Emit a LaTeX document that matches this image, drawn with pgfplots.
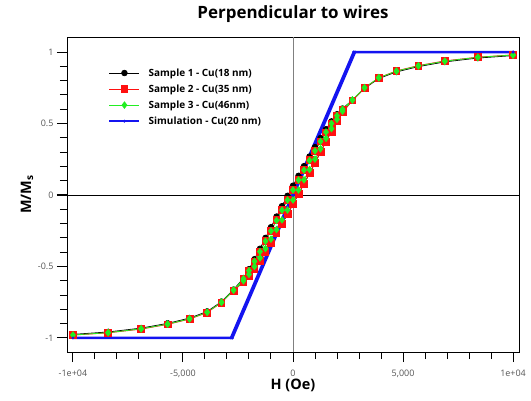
\documentclass[border=0pt]{standalone}
\usepackage{pgfplots}
\pgfplotsset{compat=1.18}
\usepackage{fontspec}
\setmainfont{Open Sans}
\definecolor{tickgray}{HTML}{555555}
\definecolor{sred}{HTML}{FF1010}
\definecolor{sgreen}{HTML}{22EE22}
\definecolor{sblue}{HTML}{1414F0}
\begin{document}
\begin{tikzpicture}
\useasboundingbox (-67bp,-49bp) rectangle (464bp,352bp);
\begin{axis}[
  at={(0,0)}, anchor=south west,
  scale only axis, width=452bp, height=315bp,
  xmin=-10270, xmax=10270, ymin=-1.098, ymax=1.105,
  axis line style={black, line width=0.8bp},
  scaled x ticks=false, scaled y ticks=false,
  xtick={-10000,-5000,0,5000,10000},
  xticklabels={-1e+04,{-5,000},0,{5,000},1e+04},
  ytick={-1,-0.5,0,0.5,1},
  yticklabels={-1,-0.5,0,0.5,1},
  minor x tick num=4, minor y tick num=4,
  tick align=outside, xtick pos=left, ytick pos=left,
  major tick length=10bp, minor tick length=7bp,
  every tick/.append style={black, line width=1bp},
  ticklabel style={font=\fontsize{9}{10}\selectfont, text=tickgray},
  xticklabel style={yshift=-4bp},
  /pgf/number format/assume math mode=true,
  title={Perpendicular to wires},
  title style={at={(0.5,1.0413)}, anchor=base, inner sep=0pt, font=\fontsize{17}{20}\selectfont\bfseries},
  xlabel={H (Oe)},
  xlabel style={at={(0.5,-0.1206)}, anchor=base, inner sep=0pt, font=\fontsize{14.5}{17}\selectfont\bfseries},
  ylabel={M/M\textsubscript{s}},
  ylabel style={at={(-0.0796,0.5)}, anchor=base, inner sep=0pt, font=\fontsize{14.5}{17}\selectfont\bfseries},
  legend style={at={(0.0907,0.907)}, anchor=north west, draw=none, fill=none,
    font=\fontsize{10}{12}\selectfont\bfseries, row sep=3bp, column sep=6bp, inner sep=0pt},
  legend cell align=left,
  legend image code/.code={\draw[mark repeat=2,mark phase=2] plot coordinates {(0bp,0bp) (15bp,0bp) (30bp,0bp)};},
]
\addplot[black, line width=0.8bp, forget plot] coordinates {(-10270,0) (10270,0)};
\addplot[gray, line width=0.8bp, forget plot] coordinates {(0,-1.098) (0,1.105)};

\addplot[black, line width=0.8bp, mark=*, mark size=2.8bp] coordinates {
(10000,0.975) (8400,0.958) (6900,0.931) (5700,0.898) (4700,0.861) (3900,0.815) (3250,0.746) (2700,0.662) (2250,0.605) (2000,0.565) (1750,0.515) (1500,0.460) (1250,0.398) (1000,0.335) (750,0.269) (500,0.202) (250,0.134) (0,0.065) (-250,-0.006) (-500,-0.078) (-750,-0.151) (-1000,-0.225) (-1250,-0.300) (-1500,-0.376) (-1750,-0.449) (-2000,-0.519) (-2250,-0.581) (-2700,-0.662) (-3250,-0.746) (-3900,-0.815) (-4700,-0.861) (-5700,-0.898) (-6900,-0.931) (-8400,-0.958) (-10000,-0.975)
(-8400,-0.958) (-6900,-0.931) (-5700,-0.898) (-4700,-0.861) (-3900,-0.815) (-3250,-0.746) (-2700,-0.662) (-2250,-0.605) (-2000,-0.565) (-1750,-0.515) (-1500,-0.460) (-1250,-0.398) (-1000,-0.335) (-750,-0.269) (-500,-0.202) (-250,-0.134) (0,-0.065) (250,0.006) (500,0.078) (750,0.151) (1000,0.225) (1250,0.300) (1500,0.376) (1750,0.449) (2000,0.519) (2250,0.581) (2700,0.662) (3250,0.746) (3900,0.815) (4700,0.861) (5700,0.898) (6900,0.931) (8400,0.958) (10000,0.975)
};
\addlegendentry{Sample 1 - Cu(18 nm)}

\addplot[sred, line width=0.8bp, mark=square*, mark size=3.4bp] coordinates {
(10000,0.980) (8400,0.964) (6900,0.938) (5700,0.905) (4700,0.868) (3900,0.820) (3250,0.748) (2700,0.661) (2250,0.597) (2000,0.551) (1750,0.496) (1500,0.438) (1250,0.375) (1000,0.310) (750,0.244) (500,0.176) (250,0.108) (0,0.038) (-250,-0.032) (-500,-0.104) (-750,-0.176) (-1000,-0.250) (-1250,-0.323) (-1500,-0.398) (-1750,-0.468) (-2000,-0.533) (-2250,-0.589) (-2700,-0.669) (-3250,-0.752) (-3900,-0.822) (-4700,-0.868) (-5700,-0.905) (-6900,-0.938) (-8400,-0.964) (-10000,-0.980)
(-8400,-0.964) (-6900,-0.938) (-5700,-0.905) (-4700,-0.868) (-3900,-0.822) (-3250,-0.752) (-2700,-0.669) (-2250,-0.609) (-2000,-0.569) (-1750,-0.520) (-1500,-0.462) (-1250,-0.399) (-1000,-0.334) (-750,-0.268) (-500,-0.200) (-250,-0.132) (0,-0.062) (250,0.008) (500,0.080) (750,0.152) (1000,0.226) (1250,0.299) (1500,0.374) (1750,0.444) (2000,0.515) (2250,0.577) (2700,0.661) (3250,0.748) (3900,0.820) (4700,0.868) (5700,0.905) (6900,0.938) (8400,0.964) (10000,0.980)
};
\addlegendentry{Sample 2 - Cu(35 nm)}

\addplot[sgreen, line width=0.8bp, mark=diamond*, mark size=3.2bp] coordinates {
(10000,0.979) (8400,0.963) (6900,0.936) (5700,0.903) (4700,0.866) (3900,0.820) (3250,0.750) (2700,0.665) (2250,0.600) (2000,0.555) (1750,0.500) (1500,0.440) (1250,0.375) (1000,0.309) (750,0.242) (500,0.174) (250,0.105) (0,0.035) (-250,-0.035) (-500,-0.106) (-750,-0.178) (-1000,-0.251) (-1250,-0.323) (-1500,-0.396) (-1750,-0.464) (-2000,-0.529) (-2250,-0.586) (-2700,-0.665) (-3250,-0.750) (-3900,-0.820) (-4700,-0.866) (-5700,-0.903) (-6900,-0.936) (-8400,-0.963) (-10000,-0.979)
(-8400,-0.963) (-6900,-0.936) (-5700,-0.903) (-4700,-0.866) (-3900,-0.820) (-3250,-0.750) (-2700,-0.665) (-2250,-0.600) (-2000,-0.555) (-1750,-0.500) (-1500,-0.440) (-1250,-0.375) (-1000,-0.309) (-750,-0.242) (-500,-0.174) (-250,-0.105) (0,-0.035) (250,0.035) (500,0.106) (750,0.178) (1000,0.251) (1250,0.323) (1500,0.396) (1750,0.464) (2000,0.529) (2250,0.586) (2700,0.665) (3250,0.750) (3900,0.820) (4700,0.866) (5700,0.903) (6900,0.936) (8400,0.963) (10000,0.979)
};
\addlegendentry{Sample 3 - Cu(46nm)}

\addplot[sblue, line width=2.5bp, mark=*, mark size=1.2bp, mark options={line width=0.5bp}] coordinates {
(10000,1) (2760,1) (-2820,-1) (-10000,-1) (-2760,-1) (2820,1) (10000,1)
};
\addlegendentry{Simulation - Cu(20 nm)}
\end{axis}
\foreach \i in {0,...,20} {
  \draw[black, line width=1bp] (5.9416bp+\i*22.0058bp,0bp) -- ++(0bp,-7bp);
  \draw[black, line width=1bp] (0bp,14.0090bp+\i*14.2987bp) -- ++(-7bp,0bp);
}
\foreach \i in {0,5,10,15,20} {
  \draw[black, line width=1bp] (5.9416bp+\i*22.0058bp,0bp) -- ++(0bp,-10bp);
  \draw[black, line width=1bp] (0bp,14.0090bp+\i*14.2987bp) -- ++(-10bp,0bp);
}
\end{tikzpicture}
\end{document}
